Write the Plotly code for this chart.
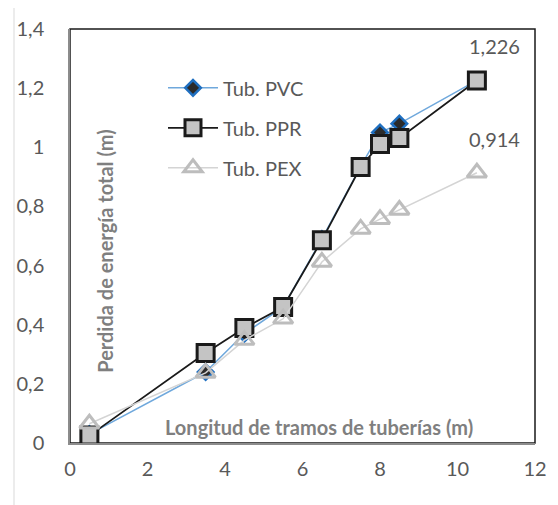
import plotly.graph_objects as go

x_vals = [0.5, 3.5, 4.5, 5.5, 6.5, 7.5, 8.0, 8.5, 10.5]
pvc = [0.03, 0.24, 0.37, 0.46, 0.69, 0.935, 1.05, 1.08, 1.226]
ppr = [0.025, 0.304, 0.389, 0.46, 0.686, 0.933, 1.011, 1.031, 1.226]
pex = [0.065, 0.237, 0.348, 0.42, 0.612, 0.724, 0.757, 0.788, 0.914]
names = ["Tub. PVC", "Tub. PPR", "Tub. PEX"]
y_ticks = [0, 0.2, 0.4, 0.6, 0.8, 1.0, 1.2, 1.4]
x_ticks = [0, 2, 4, 6, 8, 10, 12]

FONT = "Lato, 'Open Sans', sans-serif"
GREY = "#595959"
FS = 20

fig = go.Figure()
fig.add_trace(go.Scatter(
    x=x_vals, y=pvc, name=names[0], mode="lines+markers", legendgroup="a",
    line=dict(color="#6FA8DC", width=1.5),
    marker=dict(symbol="diamond", size=12, color="#2B2B2B",
                line=dict(color="#1F6FC0", width=2.5)),
))
fig.add_trace(go.Scatter(
    x=x_vals, y=ppr, name=names[1], mode="lines+markers", legendgroup="b",
    line=dict(color="#1A1A1A", width=1.8),
    marker=dict(symbol="square", size=17, color="#C4C4C4",
                line=dict(color="#1A1A1A", width=3)),
))
fig.add_trace(go.Scatter(
    x=x_vals, y=pex, name=names[2], mode="lines+markers", legendgroup="c",
    line=dict(color="#D4D4D4", width=1.5),
    marker=dict(symbol="triangle-up-open", size=17, color="#BDBDBD",
                line=dict(color="#BDBDBD", width=3)),
))

for series in (ppr, pex):
    fig.add_annotation(x=x_vals[-1], y=series[-1], text=f"{series[-1]:.3f}".replace(".", ","),
                       showarrow=False, xshift=18, yshift=34,
                       font=dict(size=FS, color=GREY, family=FONT))

# axis titles drawn inside the plot area
fig.add_annotation(x=0.075, y=0.464, xref="paper", yref="paper", xanchor="center", yanchor="middle",
                   text="<b>Perdida de energía total (m)</b>",
                   textangle=-90, showarrow=False, font=dict(size=FS, color="#7F7F7F", family=FONT))
fig.add_annotation(x=0.535, y=0.039, xref="paper", yref="paper", xanchor="center", yanchor="middle",
                   text="<b>Longitud de tramos de tuberías (m)</b>",
                   showarrow=False, font=dict(size=FS, color="#7F7F7F", family=FONT))

# plot area border (top/right black) and chart area border
fig.add_shape(type="rect", xref="paper", yref="paper", x0=0, y0=0, x1=1, y1=1,
              line=dict(color="#1A1A1A", width=1.5), layer="below")
fig.add_shape(type="rect", xref="paper", yref="paper", x0=(14 - 70) / 465, y0=-0.2,
              x1=1.1, y1=(443 - 4) / 414, line=dict(color="#D9D9D9", width=1), layer="below")

# page body has an 8px margin: size figure so the plot area lands at x 70-535, y 29-443
fig.update_layout(
    width=550, height=497,
    margin=dict(l=62, r=23, t=21, b=62, autoexpand=False),
    paper_bgcolor="white", plot_bgcolor="white",
    separators=",.",
    font=dict(family=FONT, color=GREY, size=FS),
    showlegend=True,
    legend=dict(x=0.2, y=0.905, xanchor="left", yanchor="top", bgcolor="rgba(0,0,0,0)",
                font=dict(size=FS, color=GREY, family=FONT), tracegroupgap=11,
                traceorder="grouped", itemwidth=50),
    xaxis=dict(range=[0, 12], tickvals=x_ticks, showgrid=False, zeroline=False,
               showline=True, linecolor="#8C8C8C", linewidth=1.5, ticks="",
               tickfont=dict(size=FS, color=GREY), ticklabelstandoff=7),
    yaxis=dict(range=[0, 1.4], tickvals=y_ticks, showgrid=False, zeroline=False,
               showline=True, linecolor="#8C8C8C", linewidth=1.5, ticks="",
               tickfont=dict(size=FS, color=GREY), ticklabelstandoff=20),
)

fig.write_html("out.html")
